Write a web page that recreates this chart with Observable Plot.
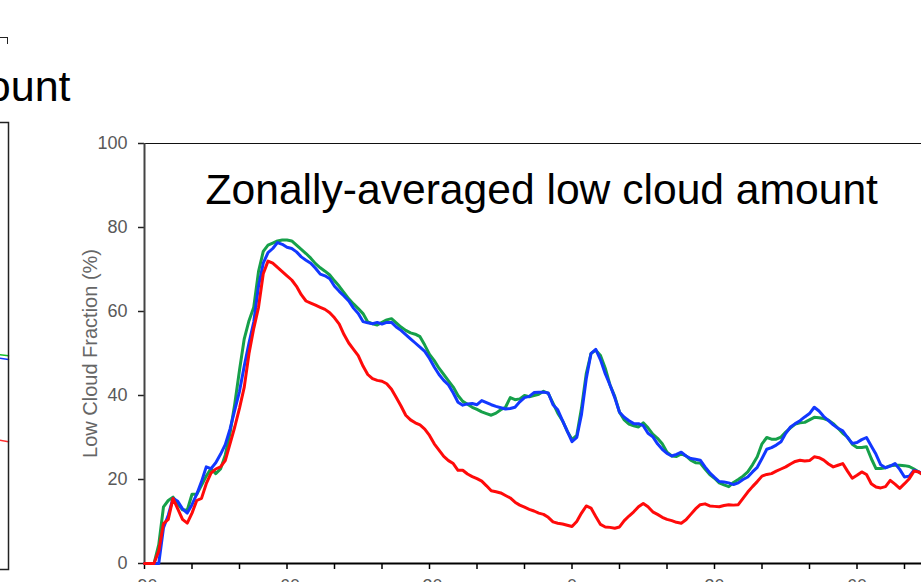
<!DOCTYPE html>
<html>
<head>
<meta charset="utf-8">
<script src="https://cdn.jsdelivr.net/npm/d3@7"></script>
<script src="https://cdn.jsdelivr.net/npm/@observablehq/plot@0.6"></script>
<style>
  html, body { margin: 0; padding: 0; background: #fff; }
  body { position: relative; width: 921px; height: 582px; overflow: hidden; }
  #main, #side { position: absolute; top: 0; }
  #main { left: 0; width: 1040px; }
  #side { left: -292px; width: 400px; }
  #main svg, #side svg { max-width: none !important; }
  #corner { position: absolute; left: -10px; top: 37px; width: 17px; height: 6px;
            border-top: 1.5px solid #222; border-right: 1.5px solid #222; }
</style>
</head>
<body>
<div id="main"></div>
<div id="side"></div>
<div id="corner"></div>
<script>
// Latitude grid (degrees)
const lat = [
  -90,-89,-88,-87,-86,-85,-84,-83,-82,-81,
  -80,-79,-78,-77,-76,-75,-74,-73,-72,-71,
  -70,-69,-68,-67,-66,-65,-64,-63,-62,-61,
  -60,-59,-58,-57,-56,-55,-54,-53,-52,-51,
  -50,-49,-48,-47,-46,-45,-44,-43,-42,-41,
  -40,-39,-38,-37,-36,-35,-34,-33,-32,-31,
  -30,-29,-28,-27,-26,-25,-24,-23,-22,-21,
  -20,-19,-18,-17,-16,-15,-14,-13,-12,-11,
  -10,-9,-8,-7,-6,-5,-4,-3,-2,-1,
  0,1,2,3,4,5,6,7,8,9,
  10,11,12,13,14,15,16,17,18,19,
  20,21,22,23,24,25,26,27,28,29,
  30,31,32,33,34,35,36,37,38,39,
  40,41,42,43,44,45,46,47,48,49,
  50,51,52,53,54,55,56,57,58,59,
  60,61,62,63,64,65,66,67,68,69,
  70,71,72,73,74,75
];

// Zonal-mean low cloud fraction (%) for the three datasets
const green = [
  0,0,0,4.5,13.5,15,15.8,14.2,12.8,12.7,
  16.5,16.5,18.6,20.8,22.6,21.4,22.5,25.8,31,38,
  46,53.5,57.8,61,69.5,74.3,75.8,76.3,76.8,77,
  77,76.8,75.8,74.8,73.8,72.7,71.4,70.4,69.6,68.7,
  67.3,66,64.5,63,61.8,60.7,59.5,57.5,57.1,56.8,
  57.4,58,58.3,57.3,56.3,55.5,54.9,54.6,54,52,
  49.8,48.3,46.5,45,43.5,42,40,38.6,37.9,37.2,
  36.7,36.1,35.7,35.3,35.8,36.6,37.2,39.5,39,39.2,
  40,39.7,40,40.3,41,40.5,38.2,35.8,34,31.5,
  29.5,30.5,37,45.2,50,50.8,49.5,46.5,42.5,39.8,
  36,34.2,33.2,32.8,32.5,33.5,32.3,30.8,29.8,28.5,
  26.5,25.6,25.5,26.1,25.6,24.6,24,23.9,22.5,21.2,
  20.3,19.2,18.7,18.3,19.3,20,20.8,21.8,23.5,25.4,
  28.5,30,29.6,29.6,30.1,31.3,32.3,33.2,33.5,33.6,
  34.2,34.8,34.7,34.5,34.1,33.3,32.2,31,30.1,28.4,
  27.6,27.6,27.8,25,22.6,22.6,22.8,23.3,23.4,23.4,
  23.3,23.1,22.5,21.8,21,21
];

const blue = [
  0,0,0,0,8.5,11.5,15.5,14.8,13,12,
  14,16.5,19.5,23,22.6,24,26,28.3,32,36.5,
  41,47,52.5,57.5,66,71.5,74,75,76.4,76,
  75.3,75,74.2,73,72.2,71.5,70.3,68.9,68.5,67.8,
  66,64.8,63.7,62.5,60.8,59.5,57.6,57.3,57.1,57.4,
  57,57.4,57.4,56.3,55.5,54.5,53.5,52.5,51.5,50.5,
  48.8,46.8,45,43.6,42.5,40.6,38.4,37.7,38,38.1,
  37.8,38.8,38.3,37.8,37.4,37.1,36.8,36.9,37.2,38.5,
  39.5,39.8,40.7,40.8,40.8,40.6,37.8,36.6,34,31.5,
  29,30,35.5,44,50,51,48.5,45.2,42.5,39.5,
  36,34.8,34,33.3,33.3,32.8,31,30.2,28.5,27.2,
  26.2,25.6,26,26.5,25.6,25,24.8,24.6,23,21.6,
  20.5,19.5,19.4,19.2,18.8,19.2,20,20.6,21.8,22.9,
  25,27.2,27.6,28.2,29,31,32.5,33.3,34,34.9,
  35.7,37.2,36.3,35,34,33,32.2,31.6,30,28.6,
  28.8,29.5,30,28,26,23.5,22.8,23.2,23.8,22.4,
  20.6,20.8,22.2,21.8,21.4,21.5
];

const red = [
  0,0,0,3,9.5,10.5,15.5,13,10.5,9.6,
  12,15,15.5,19,21.5,22.5,23,24.5,28.5,32.5,
  37,42,50,56,61,69,72,71.5,70.5,69.5,
  68.5,67.5,66,64,62.5,62,61.5,61,60.5,59.7,
  58.5,57,54.5,52.5,51,49.5,47,45,44,43.6,
  43.4,42.8,41.5,39.5,37.5,35.3,34.2,33.5,33,32,
  30.5,28.5,27,25.5,24.5,23.8,22.2,22.2,21.3,20.7,
  20.2,19.6,18.5,17.3,17.1,16.8,16.2,15.6,14.6,13.9,
  13.4,12.9,12.5,12,11.7,11,9.9,9.6,9.4,9.1,
  8.8,10,12,13.7,13.2,11.2,9.3,8.7,8.6,8.4,
  8.7,10.2,11.3,12.3,13.5,14.3,13.5,12.3,11.7,11,
  10.5,10.2,9.8,9.6,10.4,11.7,13,14,14.2,13.7,
  13.6,13.5,13.8,14,13.9,14,15.5,17,18.3,19.5,
  20.8,21.2,21.4,22,22.5,23,23.7,24.3,24.6,24.4,
  24.5,25.4,25.2,24.6,23.7,23,23.4,23.8,22,20.3,
  21,21.8,21.2,19,18.2,18,18.3,19.8,18.9,17.9,
  19,20.2,22,21.8,21,21
];

const xTicks = [-90,-80,-70,-60,-50,-40,-30,-20,-10,0,10,20,30,40,50,60,70,80,90];
const xLabels = [-90,-60,-30,0,30,60,90];
const yTicks = [0,20,40,60,80,100];
const title = "Zonally-averaged low cloud amount";
const yLabel = "Low Cloud Fraction (%)";

// Neighbouring panel, only its right edge is in view
const sideX = [0.8, 0.9, 1.0];
const sideGreen = [49.5, 48.6, 47.8];
const sideBlue = [48.8, 47.9, 47.0];
const sideRed = [30.2, 29.6, 28.6];

const font = "'Liberation Sans', Arial, Helvetica, sans-serif";
const rows = lat.map((d, i) => ({lat: d, green: green[i], blue: blue[i], red: red[i]}));

const main = Plot.plot({
  width: 1040,
  height: 610,
  marginLeft: 144,
  marginRight: 41,
  marginTop: 143,
  marginBottom: 47,
  style: {background: "transparent", fontFamily: font, fontSize: "18px", color: "#595959",
          overflow: "visible", maxWidth: "none"},
  x: {domain: [-90, 90]},
  y: {domain: [0, 100]},
  marks: [
    Plot.ruleY([100], {stroke: "#111", strokeWidth: 1}),
    Plot.axisY({ticks: yTicks, tickSize: 6, tickPadding: 11, stroke: "#222", strokeWidth: 1.5,
                fill: "#595959", label: null, fontSize: 18}),
    Plot.axisX({ticks: xTicks, tickSize: 6, tickPadding: 10, stroke: "#000", strokeWidth: 1.5,
                fill: "#595959", label: null, fontSize: 18,
                tickFormat: d => xLabels.includes(d) ? String(d) : ""}),
    Plot.ruleX([-90], {stroke: "#444", strokeWidth: 2}),
    Plot.ruleY([0], {stroke: "#000", strokeWidth: 2}),
    Plot.line(rows, {x: "lat", y: "green", stroke: "#16a04a", strokeWidth: 3, strokeLinejoin: "round"}),
    Plot.line(rows, {x: "lat", y: "blue", stroke: "#1238ff", strokeWidth: 3, strokeLinejoin: "round"}),
    Plot.line(rows, {x: "lat", y: "red", stroke: "#ff0a0a", strokeWidth: 3, strokeLinejoin: "round"}),
    Plot.text([yLabel], {text: d => d, frameAnchor: "left", textAnchor: "middle", lineAnchor: "middle",
                         rotate: -90, dx: -54, fontSize: 20, fill: "#666"}),
    Plot.text([title], {text: d => d, frameAnchor: "top-left", textAnchor: "start", lineAnchor: "bottom",
                        dx: 61, dy: 60, fontSize: 42.6, fill: "#000"})
  ]
});
document.getElementById("main").append(main);

const side = Plot.plot({
  width: 400,
  height: 600,
  marginLeft: 20,
  marginRight: 100,
  marginTop: 122,
  marginBottom: 31,
  style: {background: "transparent", fontFamily: font, overflow: "visible", maxWidth: "none"},
  x: {domain: [0, 1], axis: null},
  y: {domain: [0, 100], axis: null},
  marks: [
    Plot.line(sideX.map((x, i) => ({x, y: sideGreen[i]})), {x: "x", y: "y", stroke: "#16c02a", strokeWidth: 1.5}),
    Plot.line(sideX.map((x, i) => ({x, y: sideBlue[i]})), {x: "x", y: "y", stroke: "#1238ff", strokeWidth: 1.5}),
    Plot.line(sideX.map((x, i) => ({x, y: sideRed[i]})), {x: "x", y: "y", stroke: "#ff3030", strokeWidth: 1.5}),
    Plot.frame({stroke: "#222", strokeWidth: 1.5}),
    Plot.text([title], {text: d => d, frameAnchor: "top-right", textAnchor: "end", lineAnchor: "bottom",
                        dx: 62, dy: -22, fontSize: 43, fill: "#000"})
  ]
});
document.getElementById("side").append(side);
</script>
</body>
</html>
